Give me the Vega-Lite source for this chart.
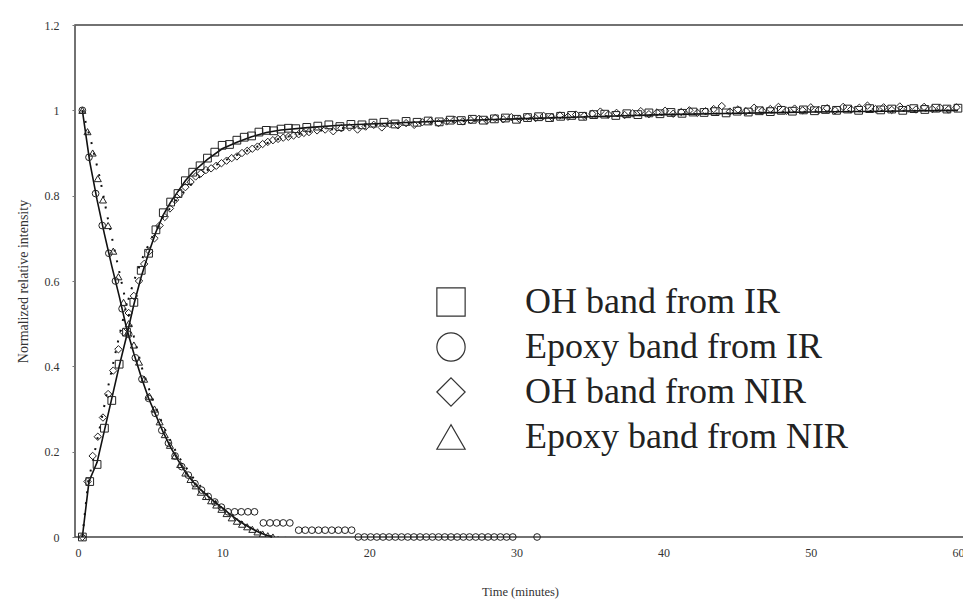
{
  "$schema": "https://vega.github.io/schema/vega-lite/v6.json",
  "width": 890,
  "height": 512,
  "autosize": {"type": "none"},
  "padding": {"left": 75, "top": 25, "right": 0, "bottom": 64},
  "background": "white",
  "config": {
    "view": {"stroke": "#444", "strokeWidth": 1.5},
    "font": "Liberation Serif",
    "axis": {"grid": false, "domain": false, "labelFont": "Liberation Serif", "titleFont": "Liberation Serif", "labelColor": "#333", "titleColor": "#333", "titleFontWeight": "normal", "tickColor": "#777", "tickSize": 3},
    "legend": {"labelFont": "Liberation Serif"}
  },
  "datasets": {
    "fs": [
      {"c":"r","t":0.5,"v":0},{"c":"r","t":0.95,"v":0.13},{"c":"r","t":1.5,"v":0.175},{"c":"r","t":2.0,"v":0.25},{"c":"r","t":2.5,"v":0.325},{"c":"r","t":3.0,"v":0.4},{"c":"r","t":3.5,"v":0.47},{"c":"r","t":4.0,"v":0.545},{"c":"r","t":4.5,"v":0.61},{"c":"r","t":5.0,"v":0.665},{"c":"r","t":5.5,"v":0.715},{"c":"r","t":6.0,"v":0.755},{"c":"r","t":6.5,"v":0.785},{"c":"r","t":7.0,"v":0.81},{"c":"r","t":7.5,"v":0.835},{"c":"r","t":8,"v":0.855},{"c":"r","t":9,"v":0.885},{"c":"r","t":10,"v":0.91},{"c":"r","t":11,"v":0.925},{"c":"r","t":12,"v":0.938},{"c":"r","t":13,"v":0.948},{"c":"r","t":14,"v":0.954},{"c":"r","t":16,"v":0.96},{"c":"r","t":18,"v":0.965},{"c":"r","t":20,"v":0.968},{"c":"r","t":25,"v":0.975},{"c":"r","t":30,"v":0.98},{"c":"r","t":35,"v":0.985},{"c":"r","t":40,"v":0.99},{"c":"r","t":45,"v":0.993},{"c":"r","t":50,"v":0.996},{"c":"r","t":55,"v":0.998},{"c":"r","t":60,"v":1.0},
      {"c":"d","t":0.5,"v":1.0},{"c":"d","t":1.0,"v":0.88},{"c":"d","t":1.5,"v":0.79},{"c":"d","t":2.0,"v":0.71},{"c":"d","t":2.5,"v":0.635},{"c":"d","t":3.0,"v":0.565},{"c":"d","t":3.5,"v":0.49},{"c":"d","t":4.0,"v":0.43},{"c":"d","t":4.5,"v":0.375},{"c":"d","t":5.0,"v":0.325},{"c":"d","t":5.5,"v":0.285},{"c":"d","t":6.0,"v":0.245},{"c":"d","t":6.5,"v":0.21},{"c":"d","t":7.0,"v":0.18},{"c":"d","t":7.5,"v":0.152},{"c":"d","t":8.0,"v":0.13},{"c":"d","t":8.5,"v":0.112},{"c":"d","t":9.0,"v":0.097},{"c":"d","t":9.5,"v":0.082},{"c":"d","t":10.0,"v":0.068},{"c":"d","t":10.5,"v":0.054},{"c":"d","t":11.0,"v":0.041},{"c":"d","t":11.5,"v":0.03},{"c":"d","t":12.0,"v":0.02},{"c":"d","t":12.5,"v":0.011},{"c":"d","t":13.0,"v":0.004},{"c":"d","t":13.4,"v":0.0}
    ],
    "fd": [
      {"c":"r","t":0.5,"v":0},{"c":"r","t":0.9,"v":0.13},{"c":"r","t":1.22,"v":0.18},{"c":"r","t":1.77,"v":0.27},{"c":"r","t":2.3,"v":0.36},{"c":"r","t":2.9,"v":0.455},{"c":"r","t":3.4,"v":0.53},{"c":"r","t":4.0,"v":0.6},{"c":"r","t":4.6,"v":0.655},{"c":"r","t":5.2,"v":0.7},{"c":"r","t":6,"v":0.75},{"c":"r","t":7,"v":0.795},{"c":"r","t":8,"v":0.83},{"c":"r","t":9,"v":0.86},{"c":"r","t":10,"v":0.88},{"c":"r","t":12,"v":0.91},{"c":"r","t":14,"v":0.935},{"c":"r","t":16,"v":0.95},{"c":"r","t":20,"v":0.965},{"c":"r","t":30,"v":0.98},{"c":"r","t":40,"v":0.99},{"c":"r","t":50,"v":0.997},{"c":"r","t":60,"v":1.0},
      {"c":"d","t":0.5,"v":1.0},{"c":"d","t":1.15,"v":0.92},{"c":"d","t":1.7,"v":0.84},{"c":"d","t":2.24,"v":0.745},{"c":"d","t":2.8,"v":0.655},{"c":"d","t":3.4,"v":0.56},{"c":"d","t":4.0,"v":0.47},{"c":"d","t":4.6,"v":0.39},{"c":"d","t":5.2,"v":0.33},{"c":"d","t":6,"v":0.26},{"c":"d","t":7,"v":0.19},{"c":"d","t":8,"v":0.14},{"c":"d","t":9,"v":0.1},{"c":"d","t":10,"v":0.07},{"c":"d","t":11,"v":0.043},{"c":"d","t":12,"v":0.02},{"c":"d","t":13,"v":0.005},{"c":"d","t":13.5,"v":0}
    ],
    "sq": [
      {"t":0.5,"v":0},{"t":1.0,"v":0.13},{"t":1.5,"v":0.17},{"t":2.0,"v":0.255},{"t":2.5,"v":0.32},{"t":3.0,"v":0.405},{"t":3.5,"v":0.48},{"t":4.0,"v":0.55},{"t":4.5,"v":0.625},{"t":5.0,"v":0.665},{"t":5.5,"v":0.72},{"t":6.0,"v":0.76},{"t":6.5,"v":0.785},{"t":7.0,"v":0.805},{"t":7.5,"v":0.835},{"t":8.0,"v":0.855},{"t":8.5,"v":0.87},{"t":9.0,"v":0.888},{"t":9.5,"v":0.902},{"t":10.0,"v":0.918},{"t":10.5,"v":0.92},{"t":11.0,"v":0.93},{"t":11.5,"v":0.937},{"t":12.0,"v":0.94},{"t":12.5,"v":0.949},{"t":13.0,"v":0.953},{"t":13.5,"v":0.952},{"t":14.0,"v":0.956},{"t":14.5,"v":0.958},{"t":15.0,"v":0.957},
      {"t":15.75,"v":0.96},{"t":16.5,"v":0.963},{"t":17.25,"v":0.966},{"t":18.0,"v":0.962},{"t":18.75,"v":0.967},{"t":19.5,"v":0.966},{"t":20.25,"v":0.97},{"t":21.0,"v":0.972},{"t":21.75,"v":0.968},{"t":22.5,"v":0.974},{"t":23.25,"v":0.972},{"t":24.0,"v":0.975},{"t":24.75,"v":0.973},{"t":25.5,"v":0.977},{"t":26.25,"v":0.976},{"t":27.0,"v":0.979},{"t":27.75,"v":0.977},{"t":28.5,"v":0.98},{"t":29.25,"v":0.982},{"t":30.0,"v":0.979},{"t":30.75,"v":0.983},{"t":31.5,"v":0.985},{"t":32.25,"v":0.983},{"t":33.0,"v":0.986},{"t":33.75,"v":0.988},{"t":34.5,"v":0.986},{"t":35.25,"v":0.99},{"t":36.0,"v":0.991},{"t":36.75,"v":0.988},{"t":37.5,"v":0.992},{"t":38.25,"v":0.99},{"t":39.0,"v":0.994},{"t":39.75,"v":0.992},{"t":40.5,"v":0.995},{"t":41.25,"v":0.993},{"t":42.0,"v":0.996},{"t":42.75,"v":0.995},{"t":43.5,"v":0.997},{"t":44.25,"v":0.994},{"t":45.0,"v":0.998},{"t":45.75,"v":0.996},{"t":46.5,"v":0.999},{"t":47.25,"v":0.997},{"t":48.0,"v":1.0},{"t":48.75,"v":0.998},{"t":49.5,"v":1.001},{"t":50.25,"v":0.999},{"t":51.0,"v":1.002},{"t":51.75,"v":1.0},{"t":52.5,"v":1.003},{"t":53.25,"v":1.0},{"t":54.0,"v":1.004},{"t":54.75,"v":1.001},{"t":55.5,"v":1.003},{"t":56.25,"v":1.0},{"t":57.0,"v":1.004},{"t":57.75,"v":1.002},{"t":58.5,"v":1.005},{"t":59.25,"v":1.003},{"t":60.0,"v":1.005}
    ],
    "ci": [
      {"t":0.5,"v":1.0},{"t":0.95,"v":0.89},{"t":1.4,"v":0.805},{"t":1.85,"v":0.73},{"t":2.3,"v":0.665},{"t":2.75,"v":0.6},{"t":3.2,"v":0.535},{"t":3.65,"v":0.475},{"t":4.1,"v":0.42},{"t":4.55,"v":0.37},{"t":5.0,"v":0.325},{"t":5.45,"v":0.29},{"t":5.9,"v":0.25},{"t":6.35,"v":0.22},{"t":6.8,"v":0.19},{"t":7.25,"v":0.165},{"t":7.7,"v":0.145},{"t":8.15,"v":0.125},{"t":8.6,"v":0.11},{"t":9.05,"v":0.095},{"t":9.5,"v":0.082},{"t":9.95,"v":0.07},
      {"t":10.4,"v":0.059},{"t":10.85,"v":0.059},{"t":11.3,"v":0.059},{"t":11.75,"v":0.059},{"t":12.2,"v":0.059},
      {"t":12.8,"v":0.033},{"t":13.25,"v":0.033},{"t":13.7,"v":0.033},{"t":14.15,"v":0.033},{"t":14.6,"v":0.033},
      {"t":15.2,"v":0.016},{"t":15.65,"v":0.016},{"t":16.1,"v":0.016},{"t":16.55,"v":0.016},{"t":17.0,"v":0.016},{"t":17.45,"v":0.016},{"t":17.9,"v":0.016},{"t":18.35,"v":0.016},{"t":18.8,"v":0.016},
      {"t":19.25,"v":0},{"t":19.67,"v":0},{"t":20.09,"v":0},{"t":20.51,"v":0},{"t":20.93,"v":0},{"t":21.35,"v":0},{"t":21.77,"v":0},{"t":22.19,"v":0},{"t":22.61,"v":0},{"t":23.03,"v":0},{"t":23.45,"v":0},{"t":23.87,"v":0},{"t":24.29,"v":0},{"t":24.71,"v":0},{"t":25.13,"v":0},{"t":25.55,"v":0},{"t":25.97,"v":0},{"t":26.39,"v":0},{"t":26.81,"v":0},{"t":27.23,"v":0},{"t":27.65,"v":0},{"t":28.07,"v":0},{"t":28.49,"v":0},{"t":28.91,"v":0},{"t":29.33,"v":0},{"t":29.75,"v":0},{"t":31.4,"v":0}
    ],
    "di": [
      {"t":0.5,"v":0},{"t":0.85,"v":0.13},{"t":1.2,"v":0.19},{"t":1.55,"v":0.235},{"t":1.9,"v":0.28},{"t":2.25,"v":0.335},{"t":2.6,"v":0.39},{"t":2.95,"v":0.44},{"t":3.3,"v":0.48},{"t":3.65,"v":0.525},{"t":4.0,"v":0.565},{"t":4.35,"v":0.6},{"t":4.7,"v":0.64},{"t":5.05,"v":0.67},{"t":5.4,"v":0.7},{"t":5.75,"v":0.73},{"t":6.1,"v":0.75},{"t":6.45,"v":0.77},{"t":6.8,"v":0.79},{"t":7.15,"v":0.805},{"t":7.5,"v":0.82},{"t":7.85,"v":0.832},{"t":8.2,"v":0.845},{"t":8.55,"v":0.852},{"t":8.9,"v":0.86},{"t":9.25,"v":0.864},{"t":9.6,"v":0.87},{"t":9.95,"v":0.876},{"t":10.3,"v":0.882},{"t":10.65,"v":0.888},{"t":11.0,"v":0.892},{"t":11.35,"v":0.9},{"t":11.7,"v":0.905},{"t":12.05,"v":0.91},{"t":12.4,"v":0.915},{"t":12.75,"v":0.921},{"t":13.1,"v":0.926},{"t":13.45,"v":0.93},{"t":13.8,"v":0.933},{"t":14.15,"v":0.936},{"t":14.5,"v":0.938},{"t":14.85,"v":0.941},{"t":15.2,"v":0.944},{"t":15.55,"v":0.947},{"t":15.9,"v":0.949},
      {"t":16.45,"v":0.953},{"t":17.0,"v":0.955},{"t":17.55,"v":0.951},{"t":18.1,"v":0.958},{"t":18.65,"v":0.96},{"t":19.2,"v":0.955},{"t":19.75,"v":0.962},{"t":20.3,"v":0.966},{"t":20.85,"v":0.96},{"t":21.4,"v":0.968},{"t":21.95,"v":0.965},{"t":22.5,"v":0.97},{"t":23.05,"v":0.966},{"t":23.6,"v":0.972},{"t":24.15,"v":0.975},{"t":24.7,"v":0.97},{"t":25.25,"v":0.974},{"t":25.8,"v":0.978},{"t":26.35,"v":0.974},{"t":26.9,"v":0.977},{"t":27.45,"v":0.98},{"t":28.0,"v":0.976},{"t":28.55,"v":0.982},{"t":29.1,"v":0.979},{"t":29.65,"v":0.984},{"t":30.2,"v":0.98},{"t":30.75,"v":0.985},{"t":31.3,"v":0.982},{"t":31.85,"v":0.987},{"t":32.4,"v":0.984},{"t":32.95,"v":0.988},{"t":33.5,"v":0.985},{"t":34.05,"v":0.99},{"t":34.6,"v":0.987},{"t":35.15,"v":0.992},{"t":35.7,"v":0.997},{"t":36.25,"v":0.99},{"t":36.8,"v":0.994},{"t":37.35,"v":0.989},{"t":37.9,"v":0.993},{"t":38.45,"v":0.998},{"t":39.0,"v":0.991},{"t":39.55,"v":0.995},{"t":40.1,"v":0.999},{"t":40.65,"v":0.992},{"t":41.2,"v":0.996},{"t":41.75,"v":1.0},{"t":42.3,"v":0.994},{"t":42.85,"v":0.998},{"t":43.4,"v":1.003},{"t":43.95,"v":1.01},{"t":44.5,"v":0.997},{"t":45.05,"v":1.002},{"t":45.6,"v":0.998},{"t":46.15,"v":1.006},{"t":46.7,"v":0.999},{"t":47.25,"v":1.003},{"t":47.8,"v":1.008},{"t":48.35,"v":0.999},{"t":48.9,"v":1.004},{"t":49.45,"v":1.0},{"t":50.0,"v":1.007},{"t":50.55,"v":1.001},{"t":51.1,"v":1.005},{"t":51.65,"v":1.0},{"t":52.2,"v":1.008},{"t":52.75,"v":1.002},{"t":53.3,"v":1.006},{"t":53.85,"v":1.011},{"t":54.4,"v":1.003},{"t":54.95,"v":1.007},{"t":55.5,"v":1.001},{"t":56.05,"v":1.009},{"t":56.6,"v":1.004},{"t":57.15,"v":1.002},{"t":57.7,"v":1.008},{"t":58.25,"v":1.003},{"t":58.8,"v":1.006},{"t":59.35,"v":1.002},{"t":59.9,"v":1.007}
    ],
    "tr": [
      {"t":0.5,"v":1.0},{"t":0.85,"v":0.95},{"t":1.2,"v":0.9},{"t":1.55,"v":0.84},{"t":1.9,"v":0.79},{"t":2.25,"v":0.73},{"t":2.6,"v":0.67},{"t":2.95,"v":0.61},{"t":3.3,"v":0.55},{"t":3.65,"v":0.5},{"t":4.0,"v":0.45},{"t":4.35,"v":0.41},{"t":4.7,"v":0.37},{"t":5.05,"v":0.33},{"t":5.4,"v":0.3},{"t":5.75,"v":0.27},{"t":6.1,"v":0.24},{"t":6.45,"v":0.215},{"t":6.8,"v":0.19},{"t":7.15,"v":0.17},{"t":7.5,"v":0.15},{"t":7.85,"v":0.135},{"t":8.2,"v":0.12},{"t":8.55,"v":0.105},{"t":8.9,"v":0.095},{"t":9.25,"v":0.085},{"t":9.6,"v":0.075},{"t":9.95,"v":0.065},{"t":10.3,"v":0.055},{"t":10.65,"v":0.045},{"t":11.0,"v":0.037},{"t":11.35,"v":0.03},{"t":11.7,"v":0.024},{"t":12.05,"v":0.018},{"t":12.4,"v":0.012},{"t":12.75,"v":0.007},{"t":13.1,"v":0.003},{"t":13.45,"v":0.0},{"t":13.8,"v":-0.006},{"t":14.3,"v":-0.007}
    ]
  },
  "encoding": {
    "x": {"field": "t", "type": "quantitative", "scale": {"domain": [0, 60.48], "nice": false},
      "axis": {"title": "Time (minutes)", "values": [0,10,20,30,40,50,60], "format": "d", "labelFontSize": 12, "titleFontSize": 12.5, "labelPadding": 10, "titlePadding": 27, "ticks": false}},
    "y": {"field": "v", "type": "quantitative", "scale": {"domain": [0, 1.2], "nice": false},
      "axis": {"title": "Normalized relative intensity", "values": [0,0.2,0.4,0.6,0.8,1,1.2], "format": "~g", "labelFontSize": 12, "titleFontSize": 14, "labelPadding": 13, "titlePadding": 14, "tickSize": 3}}
  },
  "layer": [
    {"data": {"name": "fs"}, "mark": {"type": "line", "color": "#111", "strokeWidth": 1.6}, "encoding": {"detail": {"field": "c"}}},
    {"data": {"name": "fd"}, "mark": {"type": "line", "color": "#111", "strokeWidth": 2, "strokeDash": [2, 9]}, "encoding": {"detail": {"field": "c"}}},
    {"data": {"name": "sq"}, "mark": {"type": "point", "filled": false, "stroke": "#222", "strokeWidth": 1, "size": 60, "opacity": 1},
      "encoding": {"shape": {"datum": "OH band from IR", "type": "nominal",
        "scale": {"domain": ["OH band from IR", "Epoxy band from IR", "OH band from NIR", "Epoxy band from NIR"], "range": ["square", "circle", "diamond", "triangle-up"]},
        "legend": {"title": null, "orient": "none", "legendX": 358, "legendY": 259, "symbolSize": 800, "symbolStrokeWidth": 1.2, "symbolStrokeColor": "#333", "symbolFillColor": "transparent", "labelFontSize": 36, "labelColor": "#222", "labelOffset": 56, "labelLimit": 0, "rowPadding": 9, "symbolType": "square"}}}},
    {"data": {"name": "ci"}, "mark": {"type": "point", "filled": false, "stroke": "#222", "strokeWidth": 1, "size": 45, "opacity": 1},
      "encoding": {"shape": {"datum": "Epoxy band from IR", "type": "nominal"}}},
    {"data": {"name": "di"}, "mark": {"type": "point", "filled": false, "stroke": "#222", "strokeWidth": 1, "size": 55, "opacity": 1},
      "encoding": {"shape": {"datum": "OH band from NIR", "type": "nominal"}}},
    {"data": {"name": "tr"}, "mark": {"type": "point", "filled": false, "stroke": "#222", "strokeWidth": 1, "size": 50, "opacity": 1, "clip": true},
      "encoding": {"shape": {"datum": "Epoxy band from NIR", "type": "nominal"}}}
  ]
}
